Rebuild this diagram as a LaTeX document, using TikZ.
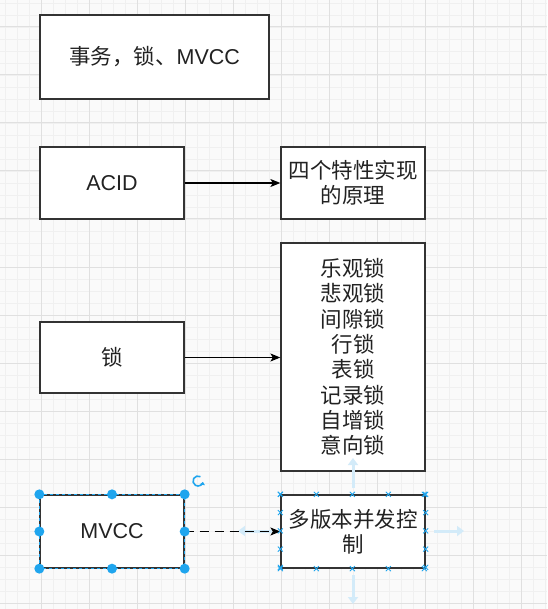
\documentclass[tikz,border=0pt]{standalone}
\usepackage{fontspec}
\setmainfont{Liberation Sans}
\newfontfamily\cjk{Noto Sans CJK SC}
\usetikzlibrary{arrows.meta}
\definecolor{boxc}{HTML}{333333}
\definecolor{txt}{HTML}{222222}
\definecolor{gridminor}{HTML}{F0F0F0}
\definecolor{gridmajor}{HTML}{E0E0E0}
\definecolor{selblue}{HTML}{1FA5EE}
\definecolor{hoverblue}{HTML}{D3EBF9}
\begin{document}
\begin{tikzpicture}[x=1pt,y=-1pt,
  box/.style={draw=boxc, line width=1.3pt, fill=white, inner sep=2pt, text=txt, align=center,
    font=\fontsize{21.5}{25.3}\selectfont},
  cjkbox/.style={box, font=\cjk\fontsize{21.5}{25.3}\selectfont},
  conn/.style={draw=black, line width=1.1pt, -{Stealth[length=10pt,width=8pt,inset=2.5pt]}},
  dashconn/.style={conn, dash pattern=on 9pt off 6pt},
  gminor/.style={draw=gridminor, line width=0.8pt},
  gmajor/.style={draw=gridmajor, line width=1pt},
  handle/.style={fill=selblue},
  cpmark/.style={draw=selblue, line width=0.8pt},
  hover/.style={draw=hoverblue, line width=3pt, -{Triangle[length=7pt,width=10pt]}}]
\useasboundingbox (0,0) rectangle (547,609);
\fill[white!98!black] (0,0) rectangle (547,609);
% grid
\foreach \i in {0,...,45} \draw[gminor] (5+12*\i,0) -- (5+12*\i,609);
\foreach \i in {0,...,50} \draw[gminor] (0,3+12*\i) -- (547,3+12*\i);
\foreach \i in {0,...,10} \draw[gmajor] (41+48*\i,0) -- (41+48*\i,609);
\foreach \i in {0,...,12} \draw[gmajor] (0,27+48*\i) -- (547,27+48*\i);

% boxes
\node[box, minimum width=229pt, minimum height=84pt] (title) at (154.5,57) {{\cjk 事务，锁、}MVCC};
\node[box, minimum width=144pt, minimum height=72pt] (acid) at (112,183) {ACID};
\node[cjkbox, minimum width=144pt, minimum height=72pt] (prop) at (353,183) {四个特性实现\\的原理};
\node[cjkbox, minimum width=144pt, minimum height=71pt] (lock) at (112,357.5) {锁};
\node[cjkbox, minimum width=144pt, minimum height=228pt] (locks) at (353,357) {乐观锁\\悲观锁\\间隙锁\\行锁\\表锁\\记录锁\\自增锁\\意向锁};

% hover arrows around the target box
\draw[hover] (353,488) -- (353,458);
\draw[hover] (353,575) -- (353,604);
\draw[hover] (434,531) -- (464,531);
\draw[hover] (272,531) -- (238,531);

\node[box, minimum width=144pt, minimum height=73pt] (mvcc) at (112,531.5) {MVCC};
\node[cjkbox, minimum width=144pt, minimum height=73pt] (mv) at (353,531.5) {多版本并发控\\制};

% connectors
\draw[conn] (acid.east) -- (prop.west);
\draw[conn] (lock.east) -- (lock.east -| locks.west);
\draw[dashconn] (mvcc.east) -- (mv.west);

% selection of MVCC box
\draw[selblue, line width=0.8pt, dash pattern=on 3pt off 3pt] (mvcc.north west) rectangle (mvcc.south east);
\foreach \a in {north west,north,north east,east,south east,south,south west,west}
  \fill[handle] (mvcc.\a) circle (5pt);
% rotate icon
\draw[selblue, line width=1.6pt, -{Triangle[length=3pt,width=5pt]}] (198,481) ++(60:5pt) arc[start angle=60, end angle=350, radius=5pt];

% connection point markers on target box
\foreach \t in {0,0.25,0.5,0.75,1} {
  \foreach \p in {(mv.north west),(mv.south west)} {
    \path \p ++(144*\t,0) coordinate (cp);
    \draw[cpmark] ([shift={(-2.5pt,-2.5pt)}]cp) -- ([shift={(2.5pt,2.5pt)}]cp)
                  ([shift={(-2.5pt,2.5pt)}]cp) -- ([shift={(2.5pt,-2.5pt)}]cp);
  }
  \foreach \p in {(mv.north west),(mv.north east)} {
    \path \p ++(0,73*\t) coordinate (cp);
    \draw[cpmark] ([shift={(-2.5pt,-2.5pt)}]cp) -- ([shift={(2.5pt,2.5pt)}]cp)
                  ([shift={(-2.5pt,2.5pt)}]cp) -- ([shift={(2.5pt,-2.5pt)}]cp);
  }
}
\end{tikzpicture}
\end{document}
